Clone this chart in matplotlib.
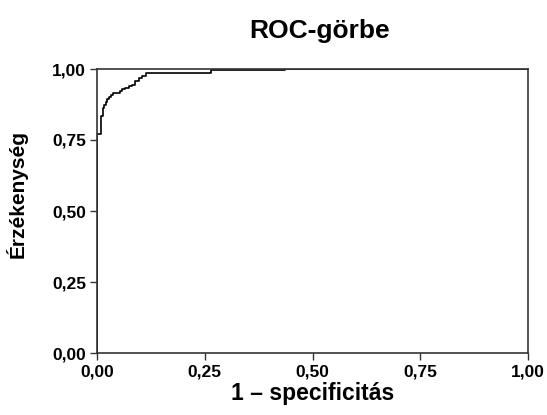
import matplotlib
matplotlib.use("Agg")
import matplotlib.pyplot as plt

# ROC curve vertices (1 - specificity, sensitivity)
fpr = [0.0, 0.0, 0.0097, 0.013, 0.017, 0.020, 0.024, 0.028, 0.033, 0.037, 0.046, 0.053,
       0.057, 0.066, 0.074, 0.081, 0.089, 0.097, 0.105, 0.114, 0.264, 0.436, 1.0]
tpr = [0.0, 0.770, 0.836, 0.862, 0.872, 0.884, 0.895, 0.903, 0.907, 0.914, 0.917, 0.921,
       0.929, 0.933, 0.940, 0.945, 0.956, 0.967, 0.976, 0.985, 0.996, 1.0, 1.0]

tick_vals = [0.0, 0.25, 0.5, 0.75, 1.0]
tick_labels = ["0,00", "0,25", "0,50", "0,75", "1,00"]

plt.rcParams['font.family'] = ['Liberation Sans', 'DejaVu Sans']

fig = plt.figure(figsize=(5.47, 4.15), dpi=100)
ax = fig.add_axes([97/547, 1-353/415, (528-97)/547, (353-69)/415])

ax.plot(fpr, tpr, drawstyle='steps-post', color='black', lw=1.2)

ax.set_xlim(0, 1)
ax.set_ylim(0, 1)
ax.set_xticks(tick_vals)
ax.set_xticklabels(tick_labels, fontsize=12.5, fontweight='bold')
ax.set_yticks(tick_vals)
ax.set_yticklabels(tick_labels, fontsize=12.5, fontweight='bold')
ax.tick_params(direction='out', length=5, width=1, color='#333333', pad=3)

for s in ax.spines.values():
    s.set_color('#333333')
    s.set_linewidth(1.2)

ax.set_xlabel("1 – specificitás", fontsize=16.5, fontweight='bold', labelpad=2)
ax.set_ylabel("Érzékenység", fontsize=15, fontweight='bold')
ax.yaxis.set_label_coords(-0.162, 0.56)
fig.text(320/547, 1-31/415, "ROC-görbe", fontsize=19, fontweight='bold',
         ha='center', va='center')

fig.savefig("out.png", dpi=100)
